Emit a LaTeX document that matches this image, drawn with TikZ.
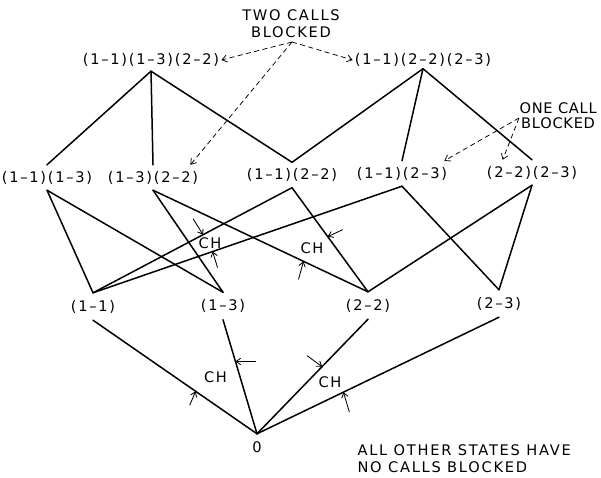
\documentclass[tikz,border=0pt]{standalone}
\usepackage{fontspec}
\setmainfont{DejaVu Sans}[LetterSpace=12]
\newfontfamily\tightfont{DejaVu Sans}[LetterSpace=5]
\usetikzlibrary{arrows.meta,calc}
\begin{document}
\begin{tikzpicture}[x=1pt,y=-1pt,
  font=\fontsize{14.6}{17}\selectfont,
  st/.style={inner xsep=2pt, inner ysep=0pt},
  edge/.style={line width=1.5pt, line cap=round},
  note/.style={line width=0.75pt, dash pattern=on 5pt off 3.5pt, -{Straight Barb[length=5pt,width=7pt]}},
  chmark/.style={line width=0.85pt, -{Straight Barb[length=4.5pt,width=6.5pt]}}
]
\useasboundingbox (0,0) rectangle (601,477);

% states
\node[st, minimum height=22pt] (A)  at (151,60)    {(1–1)(1–3)(2–2)};
\node[st, minimum height=17pt] (B)  at (423,60)    {(1–1)(2–2)(2–3)};
\node[st, minimum height=25pt] (C1) at (47,177.5)  {(1–1)(1–3)};
\node[st, minimum height=25pt] (C2) at (153,177.5) {(1–3)(2–2)};
\node[st, minimum height=25pt] (C3) at (292,175)   {(1–1)(2–2)};
\node[st, minimum height=25pt] (C4) at (402,173.5) {(1–1)(2–3)};
\node[st, minimum height=25pt] (C5) at (532,172.5) {(2–2)(2–3)};
\node[st, minimum height=27pt] (D1) at (93,306.5)  {(1–1)};
\node[st, minimum height=27pt] (D2) at (223,306)   {(1–3)};
\node[st, minimum height=27pt] (D3) at (368,305.5) {(2–2)};
\node[st, minimum height=27pt] (D4) at (499,303.5) {(2–3)};
\node[st, minimum height=26pt] (Z)  at (257,447)   {0};

% transitions
\draw[edge] (A.south) -- (C1.north);
\draw[edge] (A.south) -- (C2.north);
\draw[edge] (A.south) -- (C3.north);
\draw[edge] (B.south) -- (C3.north);
\draw[edge] (B.south) -- (C4.north);
\draw[edge] (B.south) -- (C5.north);
\draw[edge] (C1.south) -- (D1.north);
\draw[edge] (C1.south) -- (D2.north);
\draw[edge] (C2.south) -- (D2.north);
\draw[edge] (C2.south) -- (D3.north);
\draw[edge] (C3.south) -- (D1.north);
\draw[edge] (C3.south) -- (D3.north);
\draw[edge] (C4.south) -- (D1.north);
\draw[edge] (C4.south) -- (D4.north);
\draw[edge] (C5.south) -- (D3.north);
\draw[edge] (C5.south) -- (D4.north);
\draw[edge] (D1.south) -- (Z.north);
\draw[edge] (D2.south) -- (Z.north);
\draw[edge] (D3.south) -- (Z.north);
\draw[edge] (D4.south) -- (Z.north);

% annotations
\node[align=center] (T) at (291,23.5) {TWO CALLS\\BLOCKED};
\coordinate (tb) at (292,42);
\draw[note] (tb) -- (A.east);
\draw[note] (tb) -- ([xshift=-10pt]C2.north east);
\draw[note] (tb) -- (B.west);

\node[align=center, anchor=west, font=\tightfont\fontsize{14.6}{15.5}\selectfont] (O) at (516,115.5) {ONE CALL\\BLOCKED};
\coordinate (ob) at (519,118);
\draw[note] (ob) -- ([xshift=-5pt]C4.north east);
\draw[note] (ob) -- ([xshift=18pt]C5.north west);

\node[align=left, anchor=west] (N) at (354,458.5) {ALL OTHER STATES HAVE\\NO CALLS BLOCKED};

% CH markers
\node (ch1) at (210,243) {CH};
\node (ch2) at (312,248) {CH};
\node (ch3) at (215.5,377) {CH};
\node (ch4) at (330,382) {CH};

\path (C3.south) -- (D1.north) coordinate[pos=0.447] (h1);
\path (C4.south) -- (D1.north) coordinate[pos=0.613] (h2);
\path (C3.south) -- (D3.north) coordinate[pos=0.47]  (h3);
\path (C2.south) -- (D3.north) coordinate[pos=0.70]  (h4);
\path (D1.south) -- (Z.north)  coordinate[pos=0.626] (h5);
\path (D2.south) -- (Z.north)  coordinate[pos=0.366] (h6);
\path (D3.south) -- (Z.north)  coordinate[pos=0.414] (h7);
\path (D4.south) -- (Z.north)  coordinate[pos=0.643] (h8);

\draw[chmark] ($(h1)+(-10,-16)$) -- (h1);
\draw[chmark] ($(h2)+(5,16)$)    -- (h2);
\draw[chmark] ($(h3)+(15,-7)$)   -- (h3);
\draw[chmark] ($(h4)+(-5,18)$)   -- (h4);
\draw[chmark] ($(h5)+(-6,14)$)   -- (h5);
\draw[chmark] ($(h6)+(21,0)$)    -- (h6);
\draw[chmark] ($(h7)+(-15,-11)$) -- (h7);
\draw[chmark] ($(h8)+(6,20)$)    -- (h8);
\end{tikzpicture}
\end{document}
